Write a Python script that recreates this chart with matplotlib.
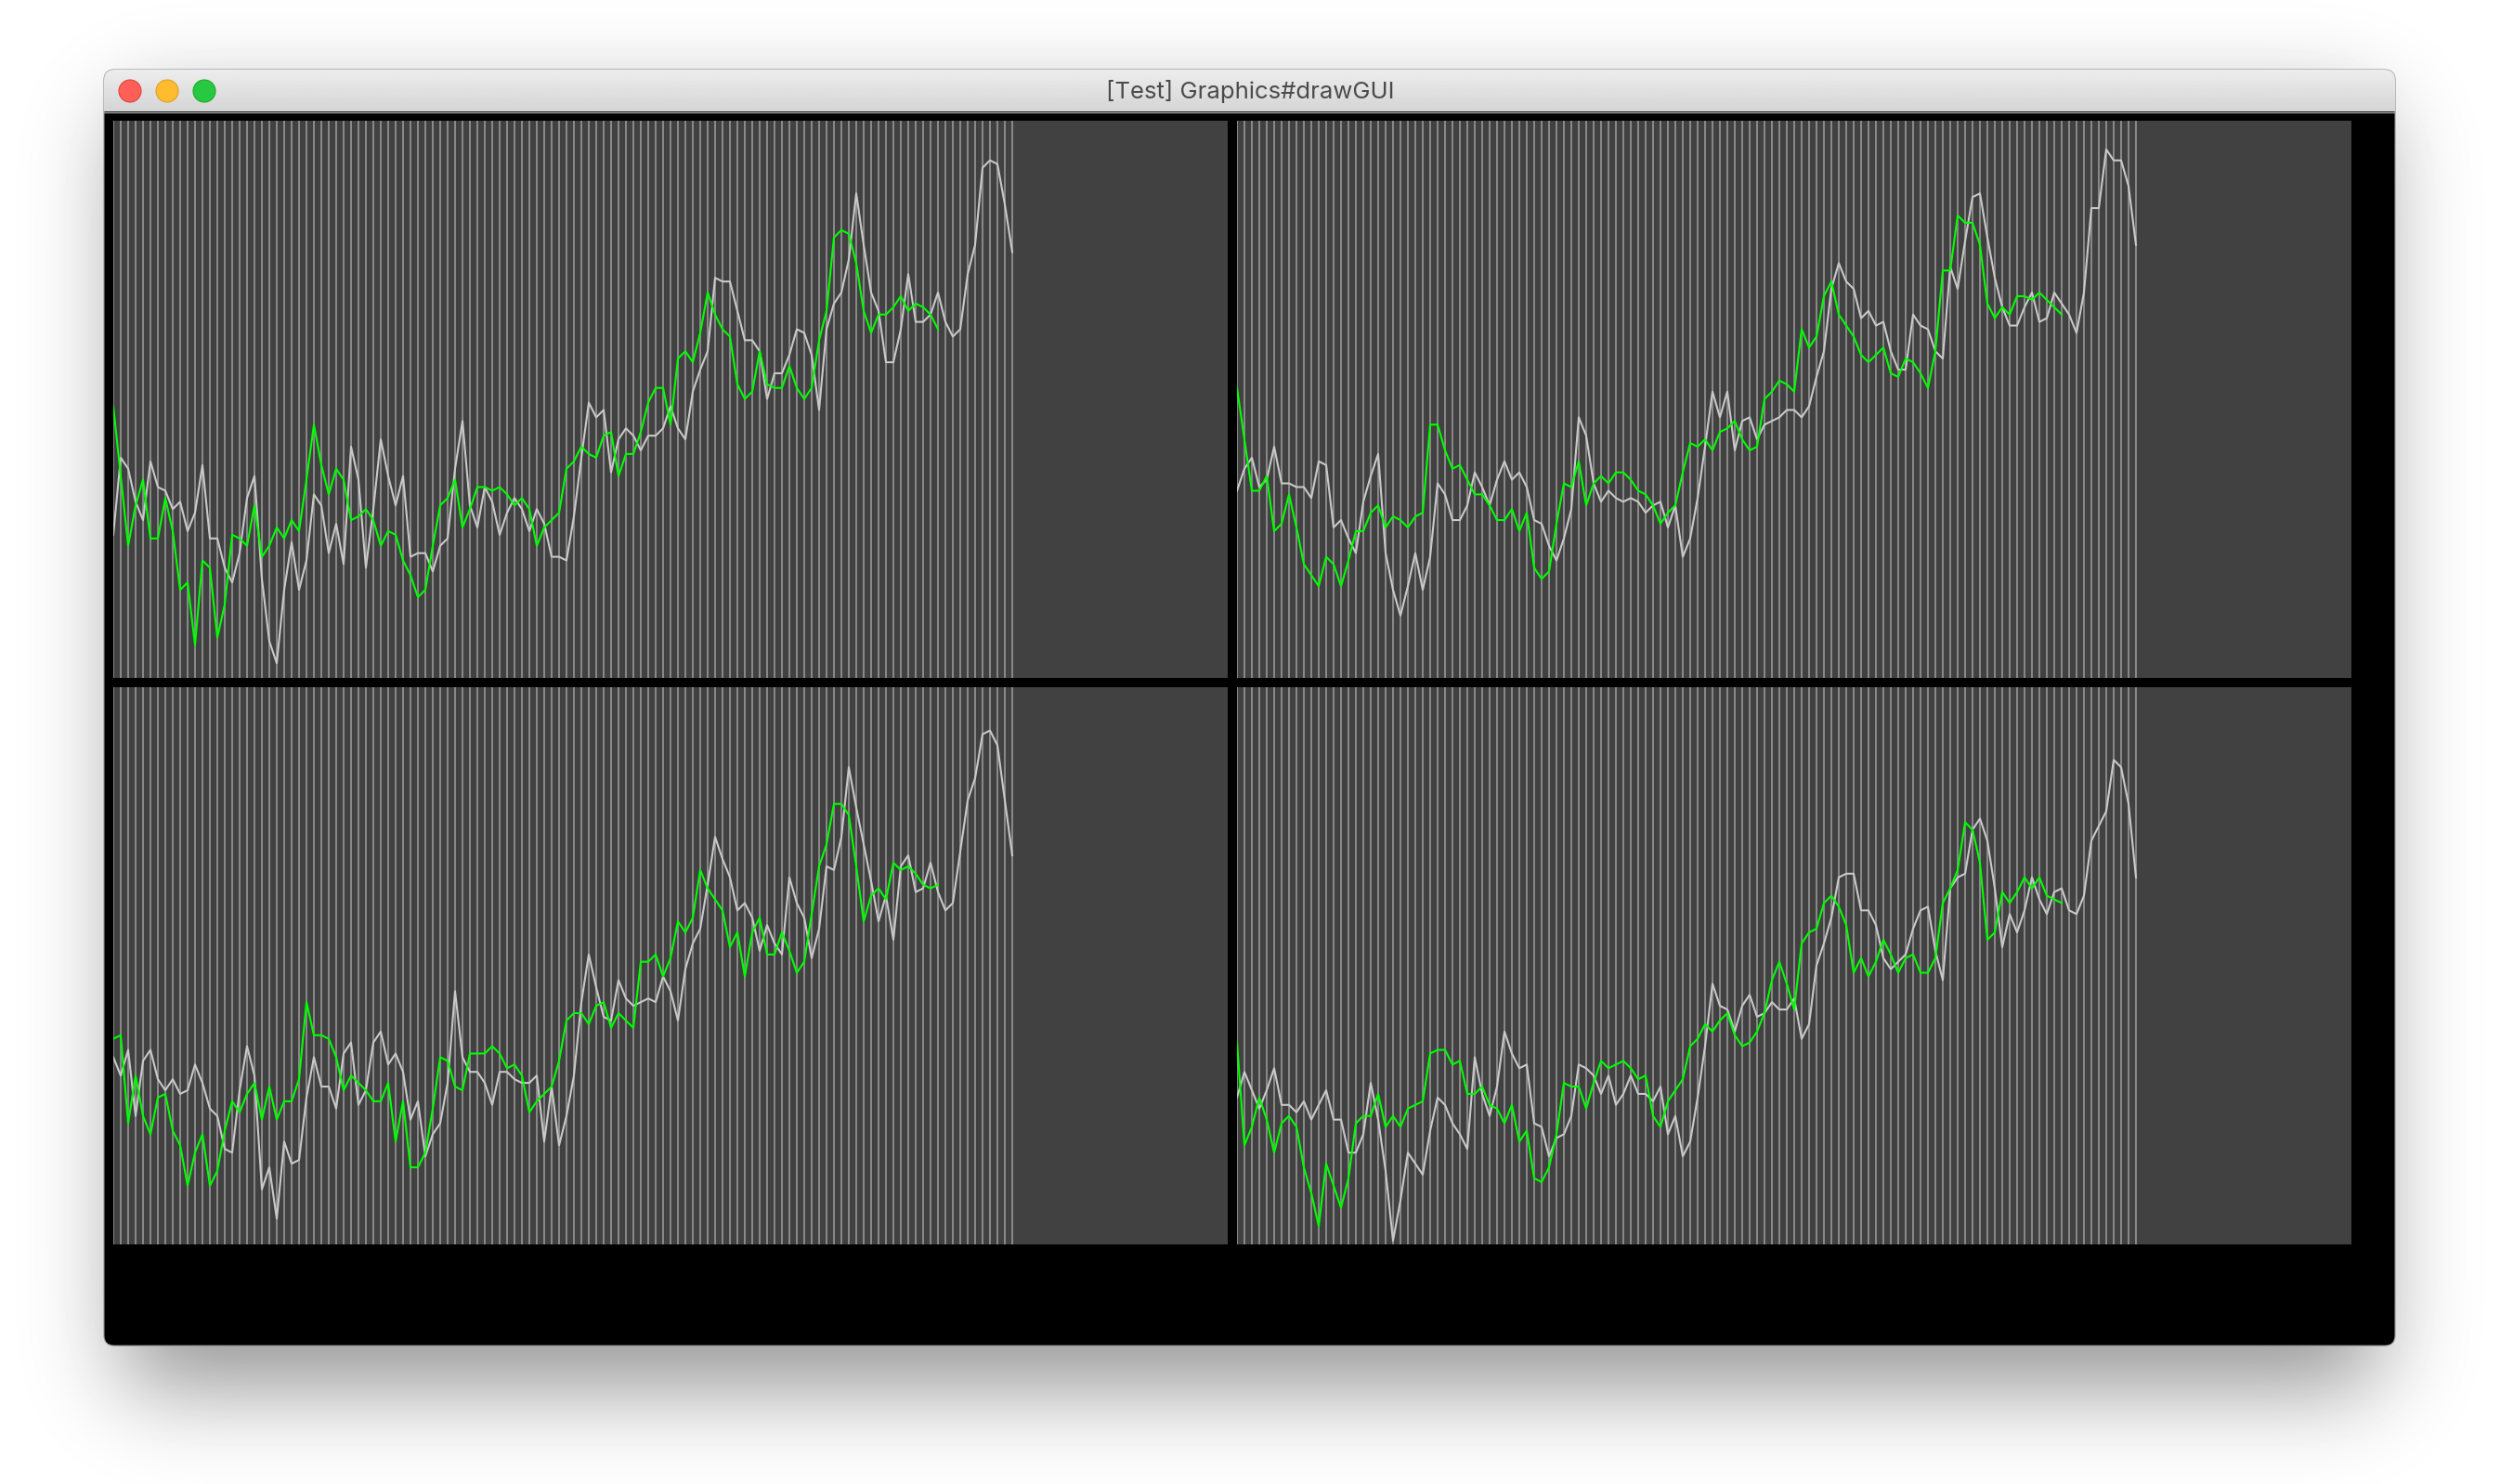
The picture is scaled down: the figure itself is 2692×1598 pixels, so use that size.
import numpy as np
import matplotlib
matplotlib.use("Agg")
import matplotlib.pyplot as plt
from matplotlib.patches import FancyBboxPatch, Circle

# ---------------------------------------------------------------
# data: height of each point above the panel floor (panel top = 151.8)
# white = full series (122 points), green = shorter series (112 points)
# ---------------------------------------------------------------
TOP = 151.8
N_SLOTS = 150

tl_white = [39, 60, 57, 48, 43, 59, 52, 51, 46, 48,
            40, 45, 58, 38, 38, 30, 26, 34, 49, 55,
            27, 10, 4, 24, 37, 24, 32, 50, 47, 34,
            42, 31, 63, 54, 30, 46, 65, 55, 47, 55,
            33, 34, 34, 29, 36, 38, 57, 70, 47, 41,
            52, 48, 39, 45, 49, 46, 40, 46, 42, 33,
            33, 32, 44, 60, 75, 71, 73, 56, 65, 68,
            66, 62, 66, 66, 68, 74, 68, 65, 78, 84,
            89, 109, 108, 108, 100, 92, 92, 89, 76, 83,
            83, 88, 95, 94, 88, 73, 95, 102, 105, 114,
            132, 118, 105, 100, 86, 86, 95, 110, 97, 97,
            99, 105, 97, 93, 95, 110, 118, 139, 141, 140,
            129, 116]
tl_green = [74, 55, 36, 47, 54, 38, 38, 49, 40, 24,
            26, 9, 32, 30, 11, 20, 39, 38, 36, 47,
            33, 36, 41, 38, 43, 40, 54, 69, 58, 50,
            57, 54, 43, 44, 46, 43, 36, 40, 39, 32,
            28, 22, 24, 36, 47, 49, 54, 41, 46, 52,
            52, 51, 52, 50, 47, 49, 46, 36, 41, 43,
            45, 57, 59, 63, 61, 60, 66, 67, 55, 61,
            61, 67, 75, 79, 79, 69, 87, 89, 86, 94,
            105, 99, 95, 93, 80, 76, 78, 89, 80, 79,
            79, 85, 79, 76, 79, 92, 100, 120, 122, 121,
            113, 100, 94, 99, 99, 101, 104, 100, 102, 101,
            99, 95]

tr_white = [51, 57, 60, 52, 54, 63, 53, 53, 52, 52,
            49, 59, 58, 41, 43, 38, 34, 48, 55, 61,
            34, 24, 17, 25, 34, 24, 33, 53, 50, 43,
            43, 47, 56, 52, 47, 54, 59, 54, 56, 52,
            43, 42, 36, 32, 38, 46, 71, 66, 53, 48,
            51, 49, 48, 49, 48, 45, 47, 48, 41, 47,
            33, 38, 49, 63, 78, 71, 78, 62, 70, 71,
            65, 69, 70, 71, 73, 73, 71, 74, 82, 89,
            106, 113, 108, 106, 98, 100, 96, 97, 89, 84,
            84, 99, 96, 95, 89, 87, 112, 106, 119, 131,
            132, 120, 109, 101, 96, 96, 101, 105, 97, 98,
            105, 102, 99, 94, 105, 128, 128, 144, 141, 141,
            134, 118]
tr_green = [79, 65, 51, 51, 55, 40, 42, 50, 41, 31,
            28, 25, 33, 31, 25, 32, 40, 40, 45, 47,
            41, 44, 43, 41, 44, 45, 69, 69, 62, 57,
            58, 54, 50, 50, 47, 43, 43, 46, 40, 45,
            30, 27, 29, 42, 53, 52, 59, 47, 53, 55,
            53, 56, 56, 54, 51, 50, 47, 42, 45, 47,
            56, 64, 63, 65, 62, 67, 68, 70, 65, 62,
            63, 76, 78, 81, 80, 78, 95, 90, 93, 104,
            108, 99, 96, 93, 88, 86, 88, 90, 83, 82,
            87, 86, 83, 79, 89, 111, 111, 126, 124, 124,
            118, 102, 98, 101, 99, 104, 104, 103, 105, 103,
            101, 99]

bl_white = [51, 46, 53, 35, 50, 53, 45, 42, 45, 41,
            42, 49, 44, 37, 35, 26, 25, 42, 54, 46,
            15, 21, 7, 28, 22, 23, 40, 51, 43, 43,
            37, 52, 55, 38, 42, 55, 58, 49, 52, 47,
            34, 39, 24, 30, 33, 44, 69, 51, 47, 47,
            44, 38, 47, 47, 45, 44, 44, 46, 28, 43,
            27, 35, 46, 66, 79, 70, 62, 61, 72, 67,
            65, 66, 67, 66, 73, 69, 61, 75, 82, 86,
            98, 111, 105, 100, 91, 93, 89, 80, 87, 82,
            79, 100, 93, 89, 78, 86, 103, 102, 111, 130,
            119, 109, 99, 88, 95, 83, 103, 106, 96, 97,
            104, 96, 91, 93, 107, 121, 127, 139, 140, 136,
            121, 106]
bl_green = [56, 57, 33, 46, 35, 30, 40, 41, 31, 27,
            16, 25, 30, 16, 20, 31, 39, 36, 41, 44,
            34, 43, 34, 39, 39, 45, 66, 57, 57, 56,
            51, 42, 46, 44, 42, 39, 39, 44, 28, 39,
            21, 21, 25, 37, 51, 50, 43, 42, 52, 52,
            52, 54, 52, 48, 49, 46, 36, 39, 41, 43,
            50, 61, 63, 63, 60, 65, 66, 59, 63, 61,
            59, 77, 77, 79, 73, 78, 88, 85, 89, 102,
            97, 94, 91, 81, 85, 73, 85, 89, 79, 79,
            85, 80, 74, 77, 90, 103, 109, 120, 120, 117,
            103, 88, 95, 97, 94, 104, 102, 103, 101, 98,
            97, 98]

br_white = [40, 47, 42, 37, 42, 48, 38, 38, 36, 39,
            34, 38, 42, 34, 34, 25, 25, 30, 44, 34,
            20, 1, 12, 25, 22, 19, 31, 40, 38, 33,
            30, 26, 51, 41, 35, 43, 58, 52, 48, 49,
            33, 32, 24, 29, 30, 35, 49, 48, 46, 41,
            46, 38, 41, 46, 41, 41, 39, 43, 30, 35,
            24, 28, 40, 54, 71, 65, 64, 58, 65, 68,
            62, 63, 66, 64, 64, 67, 56, 60, 76, 82,
            89, 100, 101, 101, 91, 91, 87, 78, 75, 77,
            79, 86, 91, 92, 80, 72, 97, 100, 101, 113,
            116, 110, 97, 81, 90, 85, 91, 100, 94, 90,
            96, 97, 91, 90, 95, 110, 114, 118, 132, 130,
            120, 100]
br_green = [55, 27, 32, 40, 34, 25, 33, 35, 32, 21,
            14, 5, 22, 16, 10, 18, 33, 35, 35, 41,
            32, 35, 32, 37, 38, 39, 52, 53, 53, 49,
            50, 41, 41, 43, 38, 37, 33, 38, 28, 31,
            18, 17, 21, 30, 44, 43, 43, 37, 44, 50,
            48, 49, 50, 48, 45, 46, 35, 32, 39, 42,
            45, 54, 56, 60, 58, 61, 63, 57, 54, 55,
            58, 63, 72, 77, 71, 64, 82, 85, 86, 93,
            95, 92, 87, 74, 78, 73, 77, 83, 79, 74,
            78, 79, 74, 74, 78, 93, 97, 102, 115, 113,
            104, 83, 85, 96, 93, 96, 100, 97, 100, 95,
            94, 93]

window_title = "[Test] Graphics#drawGUI"

# ---------------------------------------------------------------
W, H = 2692, 1598
WX0, WY0, WX1, WY1 = 112, 75, 2579, 1449   # window box (pixels, y down)
TITLE_H = 45

fig = plt.figure(figsize=(W / 100, H / 100), dpi=100)
fig.patch.set_facecolor("white")

bg = fig.add_axes([0, 0, 1, 1])
bg.axis("off")


def blur(a, sigma):
    r = int(3 * sigma)
    k = np.exp(-0.5 * (np.arange(-r, r + 1) / sigma) ** 2)
    k /= k.sum()
    a = np.apply_along_axis(lambda v: np.convolve(v, k, mode="same"), 0, a)
    a = np.apply_along_axis(lambda v: np.convolve(v, k, mode="same"), 1, a)
    return a


# drop shadow under the window
s = 4
yy, xx = np.mgrid[0:H // s, 0:W // s] * s
mask = ((xx >= WX0 + 20) & (xx <= WX1 - 20) &
        (yy >= WY0 + 40) & (yy <= WY1 + 40)).astype(float)
shade = 1 - 0.42 * blur(mask, 50 / s)
bg.imshow(shade, cmap="gray", vmin=0, vmax=1, extent=(0, W, H, 0),
          interpolation="bilinear", zorder=0)

# window body + title bar
win = FancyBboxPatch((WX0, WY0), WX1 - WX0, WY1 - WY0,
                     boxstyle="round,pad=0,rounding_size=11",
                     fc="black", ec="#8e8e8e", lw=0.8, zorder=2)
bg.add_patch(win)
grad = np.linspace(0.93, 0.835, TITLE_H)[:, None] * np.ones((1, 2))
im = bg.imshow(grad, cmap="gray", vmin=0, vmax=1,
               extent=(WX0, WX1, WY0 + TITLE_H, WY0), aspect="auto",
               interpolation="bilinear", zorder=3)
im.set_clip_path(win)
bg.plot([WX0, WX1], [WY0 + TITLE_H + 0.5] * 2, color="#b2b2b2", lw=0.9, zorder=4)

for cx, fc, ec in [(140, "#fe5f57", "#e0443e"),
                   (180, "#febc2e", "#dea123"),
                   (220, "#28c840", "#1aab29")]:
    bg.add_patch(Circle((cx, 98), 12, fc=fc, ec=ec, lw=0.8, zorder=5))

bg.text((WX0 + WX1) / 2 + 0.5, 98.5, window_title, ha="center", va="center",
        fontsize=18.5, color="#4b4b4b", family=["Inter", "DejaVu Sans"], zorder=5)

bg.set_xlim(0, W)
bg.set_ylim(H, 0)

# ---------------------------------------------------------------
# the four panels
# ---------------------------------------------------------------
panels = [
    ((122, 130), tl_white, tl_green),
    ((1332, 130), tr_white, tr_green),
    ((122, 740), bl_white, bl_green),
    ((1332, 740), br_white, br_green),
]

for (px, py), white, green in panels:
    ax = fig.add_axes([px / W, 1 - (py + 600) / H, 1200 / W, 600 / H])
    ax.set_facecolor("#414141")
    idx = np.arange(len(white))
    ax.vlines(idx, 0, TOP, colors="#8b8b8b", linewidth=1.4, zorder=1)
    ax.plot(idx, white, color="#c9c9c9", lw=1.5, zorder=2)
    ax.plot(np.arange(len(green)), green, color="#00ff00", lw=1.5, zorder=3)
    ax.set_xlim(0, N_SLOTS)
    ax.set_ylim(0, TOP)
    ax.set_xticks([])
    ax.set_yticks([])
    for sp in ax.spines.values():
        sp.set_visible(False)

fig.savefig("out.png", dpi=100, facecolor="white")
